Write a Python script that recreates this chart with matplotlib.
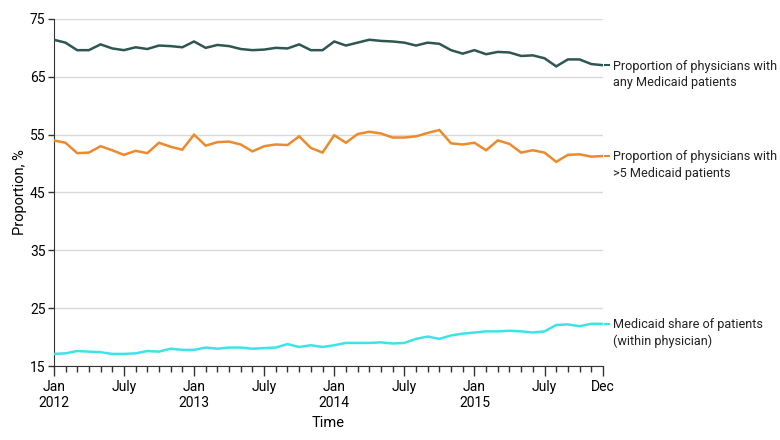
import matplotlib.pyplot as plt
import numpy as np

plt.rcParams['font.family'] = ['Roboto', 'DejaVu Sans']

# monthly values, Jan 2012 - Dec 2015
any_medicaid = [71.4, 70.9, 69.6, 69.6, 70.6, 69.9, 69.6, 70.1, 69.8, 70.4, 70.3, 70.1,
                71.1, 70.0, 70.5, 70.3, 69.8, 69.6, 69.7, 70.0, 69.9, 70.6, 69.6, 69.6,
                71.1, 70.4, 70.9, 71.4, 71.2, 71.1, 70.9, 70.4, 70.9, 70.7, 69.6, 69.0,
                69.6, 68.9, 69.3, 69.2, 68.6, 68.7, 68.2, 66.8, 68.0, 68.0, 67.2, 67.0]
over5_medicaid = [54.0, 53.6, 51.8, 51.9, 53.0, 52.3, 51.5, 52.2, 51.8, 53.6, 52.9, 52.4,
                  55.0, 53.1, 53.7, 53.8, 53.3, 52.1, 53.0, 53.3, 53.2, 54.7, 52.7, 51.9,
                  54.9, 53.6, 55.1, 55.5, 55.2, 54.5, 54.5, 54.7, 55.3, 55.8, 53.5, 53.3,
                  53.6, 52.3, 54.0, 53.4, 51.9, 52.3, 51.9, 50.3, 51.5, 51.6, 51.2, 51.3]
medicaid_share = [17.1, 17.2, 17.6, 17.5, 17.4, 17.1, 17.1, 17.2, 17.6, 17.5, 18.0, 17.8,
                  17.8, 18.2, 18.0, 18.2, 18.2, 18.0, 18.1, 18.2, 18.8, 18.3, 18.6, 18.3,
                  18.6, 19.0, 19.0, 19.0, 19.1, 18.9, 19.0, 19.7, 20.1, 19.7, 20.3, 20.6,
                  20.8, 21.0, 21.0, 21.1, 21.0, 20.8, 21.0, 22.1, 22.2, 21.9, 22.3, 22.3]

series_labels = ["Proportion of physicians with\nany Medicaid patients",
                 "Proportion of physicians with\n>5 Medicaid patients",
                 "Medicaid share of patients\n(within physician)"]
colors = ["#2f5651", "#ec8a2c", "#3ee3e8"]

tick_pos = [0, 6, 12, 18, 24, 30, 36, 42, 47]
tick_labels = ["Jan\n2012", "July", "Jan\n2013", "July", "Jan\n2014", "July",
               "Jan\n2015", "July", "Dec"]
yticks = [15, 25, 35, 45, 55, 65, 75]

months = np.arange(len(any_medicaid))

fig = plt.figure(figsize=(7.8, 4.4), dpi=100)
ax = fig.add_axes([0.069, 0.168, 0.704, 0.789])

for vals, lab, c in zip([any_medicaid, over5_medicaid, medicaid_share], series_labels, colors):
    ax.plot(months, vals, color=c, lw=1.8, solid_joinstyle='miter', zorder=3)
    x_end = months[-1]
    ax.plot([x_end + 0.15, x_end + 0.5], [vals[-1], vals[-1]], color=c, lw=1.5, clip_on=False)
    ax.annotate(lab, xy=(x_end, vals[-1]), xytext=(7, 4), textcoords='offset points',
                va='top', ha='left', fontsize=9.1, linespacing=1.35, color='#222222',
                annotation_clip=False)

ax.set_xlim(0, 47)
ax.set_ylim(15, 75)
ax.set_yticks(yticks)
ax.set_xticks(tick_pos)
ax.set_xticklabels(tick_labels, fontsize=10)
ax.set_xticks(months, minor=True)
ax.tick_params(axis='x', which='major', length=7, width=1, color='#333333', pad=3)
ax.tick_params(axis='x', which='minor', length=4, width=1, color='#333333')
ax.tick_params(axis='y', length=4, width=1, color='#333333', labelsize=10, pad=2)
ax.grid(axis='y', color='#d9d9d9', lw=1)
ax.set_axisbelow(True)
for s in ['top', 'right']:
    ax.spines[s].set_visible(False)
for s in ['left', 'bottom']:
    ax.spines[s].set_color('#333333')

ax.set_xlabel("Time", fontsize=10.5)
ax.set_ylabel("Proportion, %", fontsize=10.5, labelpad=2)

plt.savefig("out.png", dpi=100)
